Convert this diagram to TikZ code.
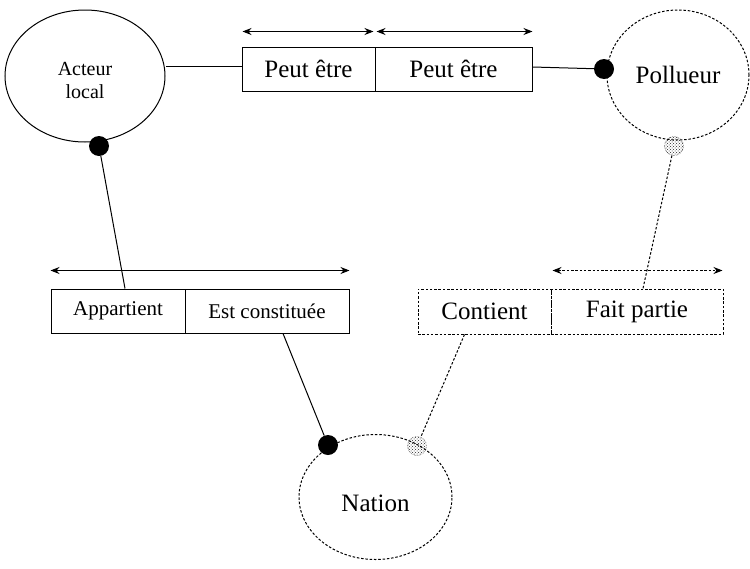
\documentclass[tikz,border=0pt]{standalone}
\usepackage{fontspec}
\setmainfont{Liberation Serif}
\usetikzlibrary{shapes.geometric,arrows.meta,patterns}
\begin{document}
\begin{tikzpicture}[x=1pt,y=-1pt,
  ln/.style={line width=1pt},
  dsh/.style={line width=1pt,dash pattern=on 2.5pt off 1.8pt},
  ent/.style={ellipse,draw,line width=1pt,inner sep=0pt},
  rel/.style={rectangle,draw,line width=1pt,inner sep=0pt,minimum height=44pt},
  bdot/.style={circle,fill=black,inner sep=0pt,minimum size=20pt},
  hdot/.style={circle,draw=gray!70!black,densely dotted,line width=0.6pt,pattern=crosshatch dots,pattern color=black!85,inner sep=0pt,minimum size=19pt},
  arr/.style={line width=1pt,{Stealth[length=9pt,width=7pt]}-{Stealth[length=9pt,width=7pt]}}
]
\useasboundingbox (0,0) rectangle (750,568);
% entities
\node[ent,minimum width=160pt,minimum height=132pt] (acteur) at (85,76) {};
\node[align=center,font=\fontsize{20}{23}\selectfont] (acteurlbl) at (85,80) {Acteur\\local};
\node[ent,dsh,minimum width=142pt,minimum height=130pt,font=\fontsize{25}{28}\selectfont] (pollueur) at (678,75) {Pollueur};
\node[ent,dsh,minimum width=153pt,minimum height=125pt] (nation) at (375.5,497) {};
\node[font=\fontsize{25}{28}\selectfont] (nationlbl) at (375.5,503) {Nation};
% relation boxes
\node[rel,minimum width=133pt,font=\fontsize{25}{28}\selectfont] (peut1) at (308.5,69) {Peut être};
\node[rel,minimum width=157pt,font=\fontsize{25}{28}\selectfont] (peut2) at (453.5,69) {Peut être};
\node[rel,minimum width=134pt,font=\fontsize{21}{24}\selectfont] (appart) at (118,311) {Appartient};
\node[rel,minimum width=164pt,font=\fontsize{21}{24}\selectfont] (estc) at (267,311) {Est constituée};
\node[rel,dsh,minimum width=133pt,minimum height=45pt,font=\fontsize{25}{28}\selectfont] (contient) at (484.5,311.5) {Contient};
\node[rel,dsh,minimum width=172pt,minimum height=45pt,font=\fontsize{25}{28}\selectfont] (fait) at (637,311.5) {Fait partie};
% arrows above boxes
\draw[arr] ([yshift=15pt,xshift=1pt]peut1.north west) coordinate (a1s) -- ([yshift=15pt,xshift=-2pt]peut1.north east) coordinate (a1e);
\draw[arr] ([yshift=15pt,xshift=2pt]peut2.north west) coordinate (a2s) -- ([yshift=15pt]peut2.north east) coordinate (a2e);
\draw[arr] ([yshift=18pt]appart.north west) coordinate (a3s) -- ([yshift=18pt]estc.north east) coordinate (a3e);
\draw[arr,dash pattern=on 2.5pt off 1.8pt] ([yshift=18pt,xshift=2pt]fait.north west) coordinate (a4s) -- ([yshift=18pt,xshift=-1pt]fait.north east) coordinate (a4e);
% dots
\node[bdot] (d1) at (99,146) {};
\node[bdot] (d2) at (604,69) {};
\node[hdot] (h1) at (674,146) {};
\node[bdot] (d3) at (328,445) {};
\node[hdot] (h2) at (417,446) {};
% connectors
\draw[ln] ([yshift=3pt]peut1.west) -- ([yshift=3pt]peut1.west -| acteur.east);
\draw[ln] ([yshift=2pt]peut2.east) -- (d2);
\draw[ln] (d1) -- ([xshift=7pt]appart.north);
\draw[ln] ([xshift=16pt]estc.south) -- (d3);
\draw[dsh] (h1) -- ([xshift=6pt]fait.north);
\draw[dsh] ([xshift=-20pt]contient.south) -- (h2);
\end{tikzpicture}
\end{document}
